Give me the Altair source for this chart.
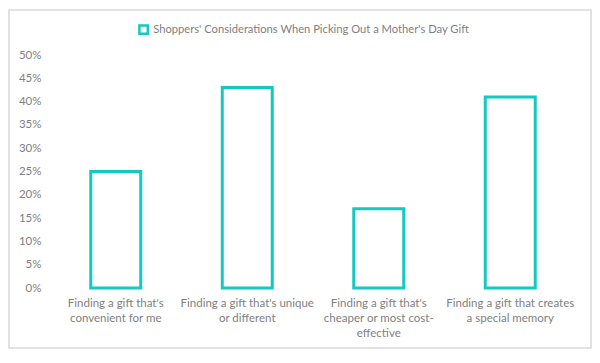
import altair as alt
import pandas as pd

categories = [
    "Finding a gift that's|convenient for me",
    "Finding a gift that's unique|or different",
    "Finding a gift that's|cheaper or most cost-|effective",
    "Finding a gift that creates|a special memory",
]
values = [0.25, 0.43, 0.17, 0.41]
series_name = "Shoppers' Considerations When Picking Out a Mother's Day Gift"
y_ticks = [i / 100 for i in range(0, 51, 5)]

TEAL = "#14C9BE"
GRAY = "#7f7f7f"
FONT = "Lato"

df = pd.DataFrame({"category": categories, "value": values, "series": series_name})

W, H = 526, 233

frame = alt.Chart(pd.DataFrame({"a": [0]})).mark_rect(
    fill=None, stroke="#d9d9d9", strokeWidth=1.5, clip=False
).encode(
    x=alt.value(-41), x2=alt.value(541), y=alt.value(-45), y2=alt.value(293)
)

bars = alt.Chart(df).mark_bar(fill="white", stroke=TEAL, strokeWidth=3).encode(
    x=alt.X(
        "category:N",
        sort=categories,
        scale=alt.Scale(paddingInner=0.62, paddingOuter=0.31),
        axis=alt.Axis(
            title=None, labelAngle=0, domain=False, ticks=False,
            labelExpr="split(datum.label, '|')", labelColor=GRAY,
            labelFont=FONT, labelFontSize=11.5, labelLineHeight=15,
            labelPadding=9, labelLimit=0,
        ),
    ),
    y=alt.Y(
        "value:Q",
        scale=alt.Scale(domain=[0, 0.5], nice=False),
        axis=alt.Axis(
            title=None, format=".0%", values=y_ticks, grid=False, domain=False,
            ticks=False, labelColor=GRAY, labelFont=FONT, labelFontSize=11.5,
            labelPadding=9,
        ),
    ),
    stroke=alt.Stroke(
        "series:N",
        scale=alt.Scale(range=[TEAL]),
        legend=alt.Legend(
            title=None, orient="none", legendX=88, legendY=-31,
            symbolType="square", symbolFillColor="white", symbolStrokeWidth=2.5,
            symbolSize=70, labelColor=GRAY, labelFont=FONT, labelFontSize=11.2,
            labelLimit=0, symbolOffset=0,
        ),
    ),
)

chart = alt.layer(frame, bars).properties(
    width=W, height=H,
    autosize=alt.AutoSizeParams(type="none"),
    padding={"left": 42, "top": 47, "right": 16, "bottom": 62},
).configure(background="white").configure_view(stroke=None)

chart.save("out.html", embed_options={"renderer": "svg", "actions": False})
